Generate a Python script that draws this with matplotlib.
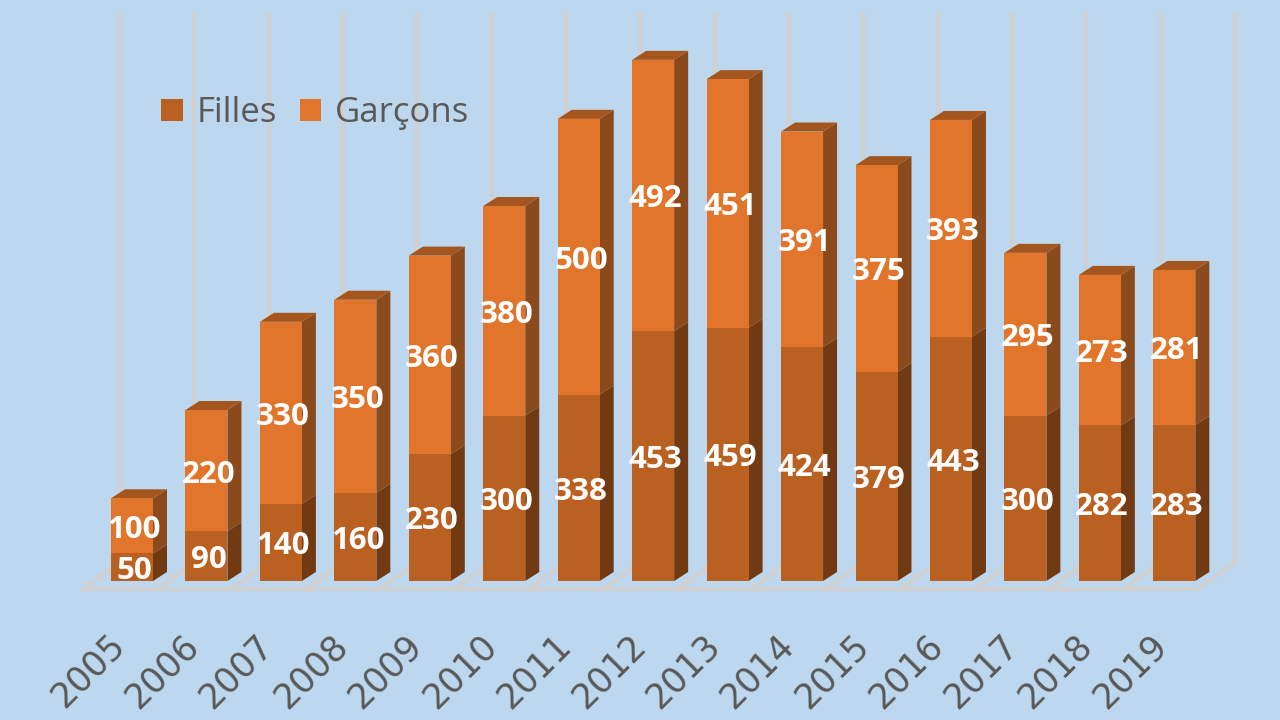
import numpy as np
import matplotlib
matplotlib.use("Agg")
import matplotlib.pyplot as plt
from matplotlib.transforms import ScaledTranslation

years = ["2005", "2006", "2007", "2008", "2009", "2010", "2011", "2012",
         "2013", "2014", "2015", "2016", "2017", "2018", "2019"]
filles = [50, 90, 140, 160, 230, 300, 338, 453, 459, 424, 379, 443, 300, 282, 283]
garcons = [100, 220, 330, 350, 360, 380, 500, 492, 451, 391, 375, 393, 295, 273, 281]

BG = "#BDD7EE"
GRID = "#D0D0D0"
C_FILLES = "#BA6122"
C_GARCONS = "#E0752B"
SIDE_FILLES = "#723A12"
SIDE_GARCONS = "#8A4A1B"
TOP = "#A5561F"
TEXT = "#595959"

# echelle : pixels par categorie et par unite
PX_X = 74.45
PX_Y = 0.5515
DX = 14 / PX_X
DY = 9 / PX_Y
WIDTH = 42 / PX_X


def draw_side(ax, x, y0, y1, color):
    # face droite d'un segment de barre
    r = x + WIDTH / 2
    ax.fill([r, r + DX, r + DX, r], [y0, y0 + DY, y1 + DY, y1],
            color=color, lw=0, zorder=3)


def main():
    fig = plt.figure(figsize=(12.8, 7.2), dpi=100, facecolor=BG)
    ax = fig.add_axes([0, 139 / 720, 1, 581 / 720])
    ax.set_facecolor(BG)
    ax.set_xlim(-132 / PX_X, (1280 - 132) / PX_X)
    ax.set_ylim(0, 581 / PX_Y)
    for s in ax.spines.values():
        s.set_visible(False)
    ax.yaxis.set_visible(False)

    # murs et sol
    n = len(years)
    grid_x = (120 - 132 + 74.33 * np.arange(n + 1)) / PX_X
    floor_back = 19 / PX_Y
    floor_front = -8 / PX_Y
    shift = 37 / PX_X
    ax.vlines(grid_x, floor_back, 569 / PX_Y, color=GRID, lw=3, zorder=1)
    for gx in grid_x:
        ax.plot([gx - shift, gx], [floor_front, floor_back], color=GRID, lw=3,
                zorder=1, clip_on=False, solid_capstyle="projecting")
    ax.plot([grid_x[0] - shift, grid_x[-1] - shift], [floor_front, floor_front],
            color=GRID, lw=3, zorder=1, clip_on=False)

    x = np.arange(n)
    low = np.array(filles)
    high = np.array(garcons)
    b1 = ax.bar(x, low, WIDTH, color=C_FILLES, zorder=4, label="Filles")
    b2 = ax.bar(x, high, WIDTH, bottom=low, color=C_GARCONS, zorder=4, label="Garçons")

    for i in range(n):
        total = low[i] + high[i]
        draw_side(ax, i, 0, low[i], SIDE_FILLES)
        draw_side(ax, i, low[i], total, SIDE_GARCONS)
        left = i - WIDTH / 2
        ax.fill([left, left + WIDTH, left + WIDTH + DX, left + DX],
                [total, total, total + DY, total + DY], color=TOP, lw=0, zorder=3)
        ax.text(i + 0.03, low[i] / 2 - 7, str(low[i]), color="white", fontsize=22.5,
                fontweight="bold", family="Open Sans", ha="center", va="center", zorder=5)
        ax.text(i + 0.03, low[i] + high[i] / 2 - 7, str(high[i]), color="white", fontsize=22.5,
                fontweight="bold", family="Open Sans", ha="center", va="center", zorder=5)

    ax.set_xticks(x)
    ax.set_xticklabels(years, rotation=45, ha="right", rotation_mode="anchor",
                       fontsize=25, color=TEXT, family="DejaVu Sans")
    ax.tick_params(axis="x", length=0, pad=30)
    # libelles decales vers le bas a gauche
    offset = ScaledTranslation(-0.25, -0.05, fig.dpi_scale_trans)
    for lab in ax.get_xticklabels():
        lab.set_transform(lab.get_transform() + offset)

    ax.legend(handles=[b1, b2], ncol=2, frameon=False,
              labelcolor=TEXT, prop={"family": "Open Sans", "size": 25},
              loc="center left", bbox_to_anchor=(130 / 1280, 1 - 113 / 581),
              handlelength=0.62, handleheight=0.62, handletextpad=0.4, columnspacing=0.65)

    fig.savefig("out.png", dpi=100, facecolor=BG)


if __name__ == "__main__":
    main()
